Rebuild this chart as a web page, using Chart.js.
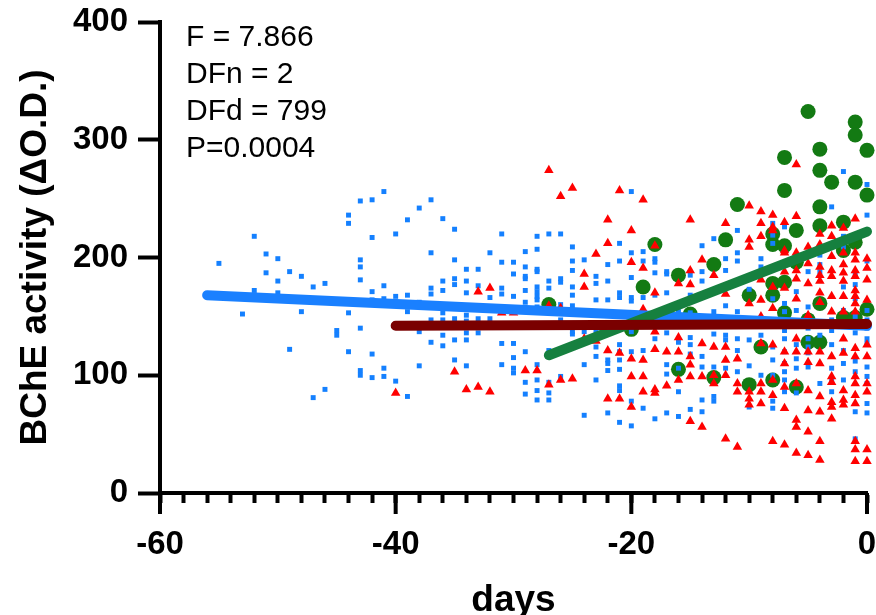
<!DOCTYPE html>
<html>
<head>
<meta charset="utf-8">
<script src="https://cdn.jsdelivr.net/npm/chart.js@4.4.1/dist/chart.umd.min.js"></script>
<style>
  html, body { margin: 0; padding: 0; background: #fff; }
  #wrap { width: 876px; height: 615px; }
</style>
</head>
<body>
<div id="wrap"><canvas id="bche" width="876" height="615"></canvas></div>
<script>
// readings per day: [day, [BChE values]]
const blueCols = [
  [-55, [195]], [-53, [152]], [-52, [218, 172]], [-51, [203, 187]],
  [-50, [199, 180, 170]], [-49, [188, 122]], [-48, [184, 154]], [-47, [175, 81]],
  [-46, [178, 88]], [-45, [138, 134]], [-44, [236, 229, 153, 120]],
  [-43, [248, 198, 192, 181, 140, 104, 100]], [-42, [249, 217, 171, 164, 118, 98]],
  [-41, [256, 176, 165, 106, 99]], [-40, [220, 167, 95]], [-39, [232, 168, 154, 82]],
  [-38, [242, 162, 137, 108]], [-37, [249, 204, 174, 169, 147, 128]],
  [-36, [233, 180, 172, 153, 147, 134, 125]], [-35, [224, 198, 182, 177, 148, 130, 113]],
  [-34, [190, 180, 170, 151, 146, 136, 130, 108]], [-33, [190, 176, 148, 136]],
  [-32, [204, 166, 148]], [-31, [220, 196, 174, 169, 127, 109]],
  [-30, [196, 186, 167, 127, 115, 106, 102]], [-29, [205, 192, 184, 182, 172, 162, 120, 94, 84]],
  [-28, [218, 207, 190, 188, 175, 171, 167, 164, 158, 109, 96, 87, 79]],
  [-27, [220, 180, 174, 121, 94, 85, 79]], [-26, [220, 182, 179, 160, 147, 99]],
  [-25, [209, 197, 189, 175, 168, 159, 137, 135]], [-24, [198, 137, 128, 109, 66]],
  [-23, [184, 178, 164, 137, 124, 116, 96]], [-22, [194, 180, 164, 113, 110, 104, 68]],
  [-21, [212, 197, 170, 166, 153, 126, 120, 113, 105, 91, 87, 60]],
  [-20, [256, 204, 183, 166, 163, 137, 120, 78, 57]], [-19, [205, 197, 166, 121, 72]],
  [-18, [199, 196, 187, 168, 131, 63]], [-17, [188, 186, 170, 136, 109, 101, 68]],
  [-16, [154, 128, 106, 86, 65]], [-15, [185, 168, 153, 132, 126, 118, 71]],
  [-14, [210, 188, 180, 116, 107, 79, 69]], [-13, [216, 154, 147, 135, 107, 82, 78]],
  [-12, [199, 189, 159, 134, 130, 106]], [-11, [223, 204, 197, 154, 131, 121, 103]],
  [-10, [173, 130, 108, 73]], [-9, [199, 192, 143, 134, 100]],
  [-8, [229, 219, 212, 165, 124, 113, 100, 78, 72]],
  [-7, [226, 161, 154, 147, 138, 131, 120, 110, 103, 96, 86]],
  [-6, [171, 155, 146, 126, 114, 106, 85]], [-5, [188, 158, 140, 131, 124, 119, 107]],
  [-4, [209, 202, 194, 188, 134, 93]], [-3, [243, 147, 138, 126, 106, 96, 86]],
  [-2, [273, 218, 209, 175, 155, 121, 110, 96]], [-1, [185, 177, 165, 150, 136, 112, 103, 69, 46]],
  [0, [262, 236, 222, 197, 155, 147, 140, 131, 127, 107, 99, 93, 76, 68]]
];

const redCols = [
  [-40, [85]], [-35, [103]], [-34, [88]], [-33, [171, 90]], [-32, [174, 86]],
  [-31, [153]], [-30, [153]], [-29, [104]], [-28, [104]], [-27, [274, 159, 92]],
  [-26, [252, 157, 96]], [-25, [259, 97]], [-24, [186, 175, 131]], [-23, [203, 129]],
  [-22, [232, 212, 121, 80]], [-21, [257, 119, 80]], [-20, [223, 196, 114, 99, 73]],
  [-19, [249, 191, 156, 113, 99, 86]], [-18, [210, 170, 137, 122, 88, 85]],
  [-17, [120, 91]], [-16, [178, 132, 120, 96]], [-15, [232, 189, 177, 116, 109, 99, 61]],
  [-14, [198, 127, 99, 56]], [-13, [185, 124, 100, 93]], [-12, [229, 169, 124, 113, 100, 46]],
  [-11, [114, 93, 86, 39]], [-10, [244, 215, 209, 161, 86, 80, 75]],
  [-9, [239, 229, 218, 181, 164, 150, 127, 93, 86, 76]],
  [-8, [236, 226, 223, 175, 157, 126, 96, 83, 44]],
  [-7, [230, 206, 204, 188, 174, 120, 110, 90, 72, 41]],
  [-6, [279, 235, 204, 189, 182, 165, 131, 120, 93, 62, 56, 34]],
  [-5, [209, 195, 178, 151, 120, 111, 87, 70, 52, 32]],
  [-4, [220, 211, 192, 185, 180, 170, 162, 120, 110, 82, 69, 44, 28]],
  [-3, [227, 218, 201, 189, 184, 167, 154, 116, 99, 94, 77, 73, 63]],
  [-2, [225, 204, 194, 187, 180, 167, 154, 131, 119, 87, 79, 75]],
  [-1, [233, 204, 198, 189, 184, 172, 167, 161, 154, 123, 116, 99, 93, 83, 76, 44, 37, 27]],
  [0, [199, 191, 181, 164, 126, 116, 93, 86, 37, 27]]
];

const greenCols = [
  [-27, [160]], [-20, [139]], [-19, [175]], [-18, [211]], [-16, [185, 105]], [-15, [152]],
  [-13, [194, 98]], [-12, [215]], [-11, [245]], [-10, [168, 92]], [-9, [124]],
  [-8, [220, 211, 178, 168, 96]], [-7, [285, 257, 210, 179, 153]], [-6, [223, 196, 90]],
  [-5, [324, 147, 128]], [-4, [292, 274, 243, 227, 161, 128]], [-3, [264]],
  [-2, [230, 206, 149]], [-1, [315, 304, 264, 213, 149]], [0, [291, 253, 156]]
];

// fitted lines: [day, value] at each end
const blueFit = [[-56, 168], [0, 142]];
const redFit = [[-40, 142], [0, 143.5]];
const greenFit = [[-27, 117], [0, 222]];

const xTicksMajor = [-60, -40, -20, 0];
const statLines = ["F = 7.866", "DFn = 2", "DFd = 799", "P=0.0004"];

const toPts = cols => cols.flatMap(([d, vals]) => vals.map(v => ({ x: d, y: v })));
const toLine = arr => arr.map(([d, v]) => ({ x: d, y: v }));

Chart.defaults.font.family = "'Liberation Sans', Arial, sans-serif";
Chart.defaults.color = "#000";

const extras = {
  id: "extras",
  afterDraw(chart) {
    const { ctx } = chart;
    const x = chart.scales.x;
    const y = chart.scales.y;
    ctx.save();
    // longer ticks at labelled days
    ctx.strokeStyle = "#000";
    ctx.lineWidth = 4;
    xTicksMajor.forEach((d) => {
      const px = x.getPixelForValue(d);
      ctx.beginPath();
      ctx.moveTo(px, y.bottom);
      ctx.lineTo(px, y.bottom + 21);
      ctx.stroke();
    });
    // stats text
    ctx.fillStyle = "#000";
    ctx.font = "30px 'Liberation Sans', Arial, sans-serif";
    ctx.textBaseline = "alphabetic";
    statLines.forEach((t, i) => {
      ctx.fillText(t, x.left + 26, y.top + 24 + i * 37);
    });
    ctx.restore();
  },
};

new Chart(document.getElementById("bche"), {
  type: "scatter",
  data: {
    datasets: [
      {
        label: "fit dark red",
        data: toLine(redFit),
        showLine: true,
        borderColor: "#7a0000",
        borderWidth: 10,
        borderCapStyle: "round",
        pointRadius: 0,
        clip: false,
        order: 1,
      },
      {
        label: "fit green",
        data: toLine(greenFit),
        showLine: true,
        borderColor: "#16803f",
        borderWidth: 10,
        borderCapStyle: "round",
        pointRadius: 0,
        clip: false,
        order: 2,
      },
      {
        label: "fit blue",
        data: toLine(blueFit),
        showLine: true,
        borderColor: "#1a80ff",
        borderWidth: 10,
        borderCapStyle: "round",
        pointRadius: 0,
        clip: false,
        order: 3,
      },
      {
        label: "red",
        data: toPts(redCols),
        pointStyle: "triangle",
        pointRadius: 5.5,
        backgroundColor: "#ff0000",
        borderWidth: 0,
        clip: false,
        order: 4,
      },
      {
        label: "blue",
        data: toPts(blueCols),
        pointStyle: "rect",
        pointRadius: 3.5,
        backgroundColor: "#1480ff",
        borderWidth: 0,
        clip: false,
        order: 5,
      },
      {
        label: "green",
        data: toPts(greenCols),
        pointStyle: "circle",
        pointRadius: 7.5,
        backgroundColor: "#137a13",
        borderWidth: 0,
        clip: false,
        order: 6,
      },
    ],
  },
  options: {
    responsive: false,
    animation: false,
    layout: { padding: { top: 22, right: 9, left: 0, bottom: 0 } },
    plugins: {
      legend: { display: false },
      tooltip: { enabled: false },
    },
    scales: {
      x: {
        type: "linear",
        min: -60,
        max: 0,
        afterFit: (s) => {
          s.height = 122;
          s.paddingLeft = 0;
          s.paddingRight = 0;
        },
        ticks: {
          stepSize: 2,
          autoSkip: false,
          maxRotation: 0,
          padding: 22,
          color: "#000",
          font: { size: 33, weight: "bold" },
          callback: (v) => (v % 20 === 0 ? v : ""),
        },
        grid: {
          drawOnChartArea: false,
          tickLength: 10,
          tickWidth: 4,
          tickColor: "#000",
        },
        border: { color: "#000", width: 4 },
        title: {
          display: true,
          text: "days",
          color: "#000",
          font: { size: 37, weight: "bold" },
          padding: { top: 0, bottom: -8 },
        },
      },
      y: {
        min: 0,
        max: 400,
        afterFit: (s) => {
          s.width = 160;
          s.paddingTop = 0;
          s.paddingBottom = 0;
        },
        ticks: {
          stepSize: 100,
          padding: 10,
          color: "#000",
          font: { size: 33, weight: "bold" },
        },
        grid: {
          drawOnChartArea: false,
          tickLength: 22,
          tickWidth: 4,
          tickColor: "#000",
        },
        border: { color: "#000", width: 4 },
        title: {
          display: true,
          text: "BChE activity (ΔO.D.)",
          color: "#000",
          font: { size: 37, weight: "bold" },
          padding: { top: 14, bottom: 0 },
        },
      },
    },
  },
  plugins: [extras],
});
</script>
</body>
</html>
